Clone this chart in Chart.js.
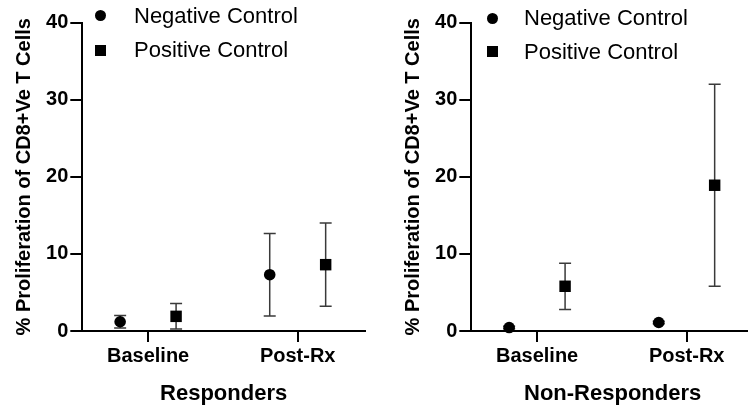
<!DOCTYPE html>
<html>
<head>
<meta charset="utf-8">
<script src="https://cdn.jsdelivr.net/npm/chart.js@4.4.0/dist/chart.umd.min.js"></script>
<style>
  html, body { margin: 0; padding: 0; background: #fff; overflow: hidden; }
  body { width: 748px; height: 407px; position: relative; font-family: "Liberation Sans", Arial, sans-serif; }
  .panel { position: absolute; top: 0; width: 374px; height: 407px; }
  .legend-item { position: absolute; font-size: 22px; line-height: 26px; height: 26px; white-space: nowrap; color: #000; }
  .mark { position: absolute; width: 11px; height: 11px; background: #000; }
  .mark.circle { border-radius: 50%; }
</style>
</head>
<body>
<div class="panel" style="left:0px"><canvas id="chartResp" width="374" height="407"></canvas></div>
<div class="panel" style="left:389px"><canvas id="chartNonResp" width="374" height="407"></canvas></div>
<script>
document.addEventListener('DOMContentLoaded', () => {

    // categorii si serii
    const categories = ['Baseline', 'Post-Rx'];
    const seriesNames = ['Negative Control', 'Positive Control'];
    const yTicks = [0, 10, 20, 30, 40];

    // Responders: medie si deviatie [Baseline, Post-Rx]
    const respNegMean = [1.2, 7.3];
    const respNegSd = [0.8, 5.35];
    const respPosMean = [1.9, 8.6];
    const respPosSd = [1.65, 5.4];

    // Non-Responders
    const nonNegMean = [0.45, 1.1];
    const nonNegSd = [0.15, 0.15];
    const nonPosMean = [5.8, 18.9];
    const nonPosSd = [3.0, 13.1];

    const family = '"Liberation Sans", Arial, sans-serif';
    const markers = [
        { pointStyle: 'circle', radius: 5.8, css: 'circle' },
        { pointStyle: 'rect', radius: 8.1, css: 'square' }
    ];
    const groupOffset = [-0.187, 0.187];

    // bare de eroare (medie +/- SD)
    const errorBars = {
        id: 'errorBars',
        beforeDatasetsDraw(chart) {
            const ctx = chart.ctx;
            const yScale = chart.scales.y;
            ctx.save();
            ctx.strokeStyle = '#3a3a3a';
            ctx.lineWidth = 1.5;
            chart.data.datasets.forEach((ds, i) => {
                chart.getDatasetMeta(i).data.forEach((pt, j) => {
                    const m = ds.data[j].y;
                    const s = ds.sd[j];
                    const top = yScale.getPixelForValue(m + s);
                    const bot = yScale.getPixelForValue(m - s);
                    ctx.beginPath();
                    ctx.moveTo(pt.x, top); ctx.lineTo(pt.x, bot);
                    ctx.moveTo(pt.x - 6, top); ctx.lineTo(pt.x + 6, top);
                    ctx.moveTo(pt.x - 6, bot); ctx.lineTo(pt.x + 6, bot);
                    ctx.stroke();
                });
            });
            ctx.restore();
        }
    };

    function makeLegend(canvas, pos) {
        const panel = canvas.parentNode;
        seriesNames.forEach((name, i) => {
            const cy = pos.y[i];
            const mark = document.createElement('div');
            mark.className = 'mark ' + markers[i].css;
            mark.style.left = (pos.markX - 5.5) + 'px';
            mark.style.top = (cy - 5.5) + 'px';
            panel.appendChild(mark);
            const item = document.createElement('div');
            item.className = 'legend-item';
            item.textContent = name;
            item.style.left = pos.textX + 'px';
            item.style.top = (cy - 13) + 'px';
            panel.appendChild(item);
        });
    }

    function makeChart(id, groupTitle, means, sds, legendPos) {
        const datasets = seriesNames.map((name, i) => ({
            label: name,
            data: categories.map((c, k) => ({ x: k + groupOffset[i], y: means[i][k] })),
            sd: sds[i],
            showLine: false,
            pointStyle: markers[i].pointStyle,
            pointRadius: markers[i].radius,
            pointBackgroundColor: '#000',
            pointBorderWidth: 0,
            clip: false
        }));

        const config = {
            type: 'scatter',
            data: { datasets: datasets },
            options: {
                responsive: false,
                animation: false,
                events: [],
                layout: { padding: { top: 22.5, right: 9, left: 0, bottom: 0 } },
                plugins: {
                    legend: { display: false },
                    tooltip: { enabled: false }
                },
                scales: {
                    x: {
                        type: 'linear',
                        min: -0.44,
                        max: 1.45,
                        afterBuildTicks: (s) => { s.ticks = categories.map((c, k) => ({ value: k })); },
                        afterFit: (s) => { s.height = 76; },
                        border: { display: true, color: '#000', width: 2 },
                        grid: { drawOnChartArea: false, drawTicks: true, tickLength: 11, color: '#000', lineWidth: 2 },
                        ticks: {
                            color: '#000',
                            padding: 2,
                            font: { family: family, size: 20, weight: 'bold' },
                            callback: (v) => categories[v]
                        },
                        title: {
                            display: true,
                            text: groupTitle,
                            color: '#000',
                            font: { family: family, size: 22, weight: 'bold' },
                            padding: { top: 0, bottom: 0 }
                        }
                    },
                    y: {
                        min: 0,
                        max: 40,
                        afterBuildTicks: (s) => { s.ticks = yTicks.map(v => ({ value: v })); },
                        afterFit: (s) => { s.width = 82.3; },
                        border: { display: true, color: '#000', width: 2 },
                        grid: { drawOnChartArea: false, drawTicks: true, tickLength: 12, color: '#000', lineWidth: 2 },
                        ticks: {
                            color: '#000',
                            padding: 2,
                            font: { family: family, size: 20, weight: 'bold' }
                        },
                        title: {
                            display: true,
                            text: '% Proliferation of CD8+Ve T Cells',
                            color: '#000',
                            font: { family: family, size: 20, weight: 'bold' },
                            padding: { top: 12, bottom: 0 }
                        }
                    }
                }
            },
            plugins: [errorBars]
        };

        const canvas = document.getElementById(id);
        new Chart(canvas.getContext('2d'), config);
        makeLegend(canvas, legendPos);
    }

    makeChart('chartResp', 'Responders',
        [respNegMean, respPosMean], [respNegSd, respPosSd],
        { markX: 100, textX: 134, y: [15.7, 50] });

    makeChart('chartNonResp', 'Non-Responders',
        [nonNegMean, nonPosMean], [nonNegSd, nonPosSd],
        { markX: 103.7, textX: 135, y: [18.3, 51.7] });
});
</script>
</body>
</html>
